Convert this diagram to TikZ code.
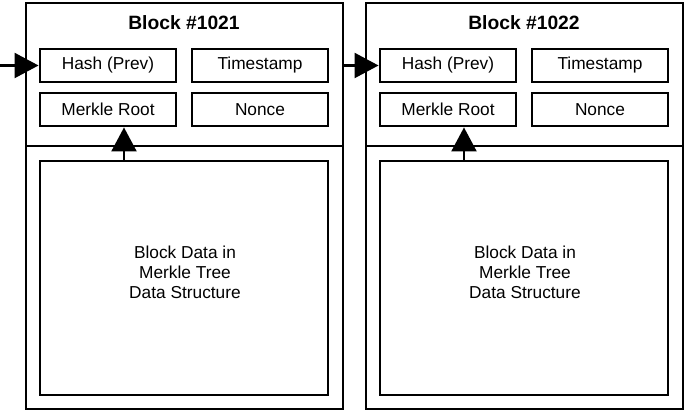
\documentclass[tikz,border=0pt]{standalone}
\usepackage{fontspec}
\setmainfont{Liberation Sans}
\usetikzlibrary{arrows.meta}

\begin{document}
\begin{tikzpicture}
        [%%%%%%%%%%%%%%%%%%%%%%%%%%%%%%
        x=0.025cm,y=-0.025cm,
        block/.style={rectangle,draw=black,line width=1.3pt,anchor=north west,
          minimum width=7.925cm,minimum height=10.15cm},
        field/.style={rectangle,draw=black,line width=2pt,minimum width=3.4cm,
          minimum height=0.825cm,font=\fontsize{12.3}{14}\selectfont},
        data/.style={rectangle,draw=black,line width=2pt,minimum width=7.2cm,
          minimum height=5.85cm},
        datatext/.style={align=center,font=\fontsize{12.3}{14.2}\selectfont},
        title/.style={font=\bfseries\fontsize{13.7}{16}\selectfont},
        arr/.style={line width=2pt,-{Triangle[length=0.6cm,width=0.62cm]}},
        ]%%%%%%%%%%%%%%%%%%%%%%%%%%%%%%
        \useasboundingbox (0,0) rectangle (685,411);

        \foreach \i/\dx/\num in {1/0/1021,2/340/1022}{
          \node[block] (blk\i) at (25+\dx,2){};
          \draw[line width=1.3pt] (blk\i.west |- 0,146) -- (blk\i.east |- 0,146);
          \node[title] (ttl\i) at (184+\dx,23){Block \#\num};
          \node[field] (hash\i) at (108+\dx,65.5){Hash (Prev)};
          \node[field] (time\i) at (260+\dx,65.5){Timestamp};
          \node[field] (merkle\i) at (108+\dx,109.5){Merkle Root};
          \node[field] (nonce\i) at (260+\dx,109.5){Nonce};
          \node[data] (data\i) at (184+\dx,278){};
          \node[datatext] (dtxt\i) at (185+\dx,272){Block Data in\\Merkle Tree\\Data Structure};
          \coordinate (up\i) at (124+\dx,0);
          \draw[arr] (data\i.north -| up\i) -- (merkle\i.south -| up\i);
        }

        \coordinate (prev) at (0,65.5);
        \draw[arr] (prev) -- (hash1);
        \draw[arr] (blk1.east |- hash2) -- (hash2);

      \end{tikzpicture}
\end{document}
